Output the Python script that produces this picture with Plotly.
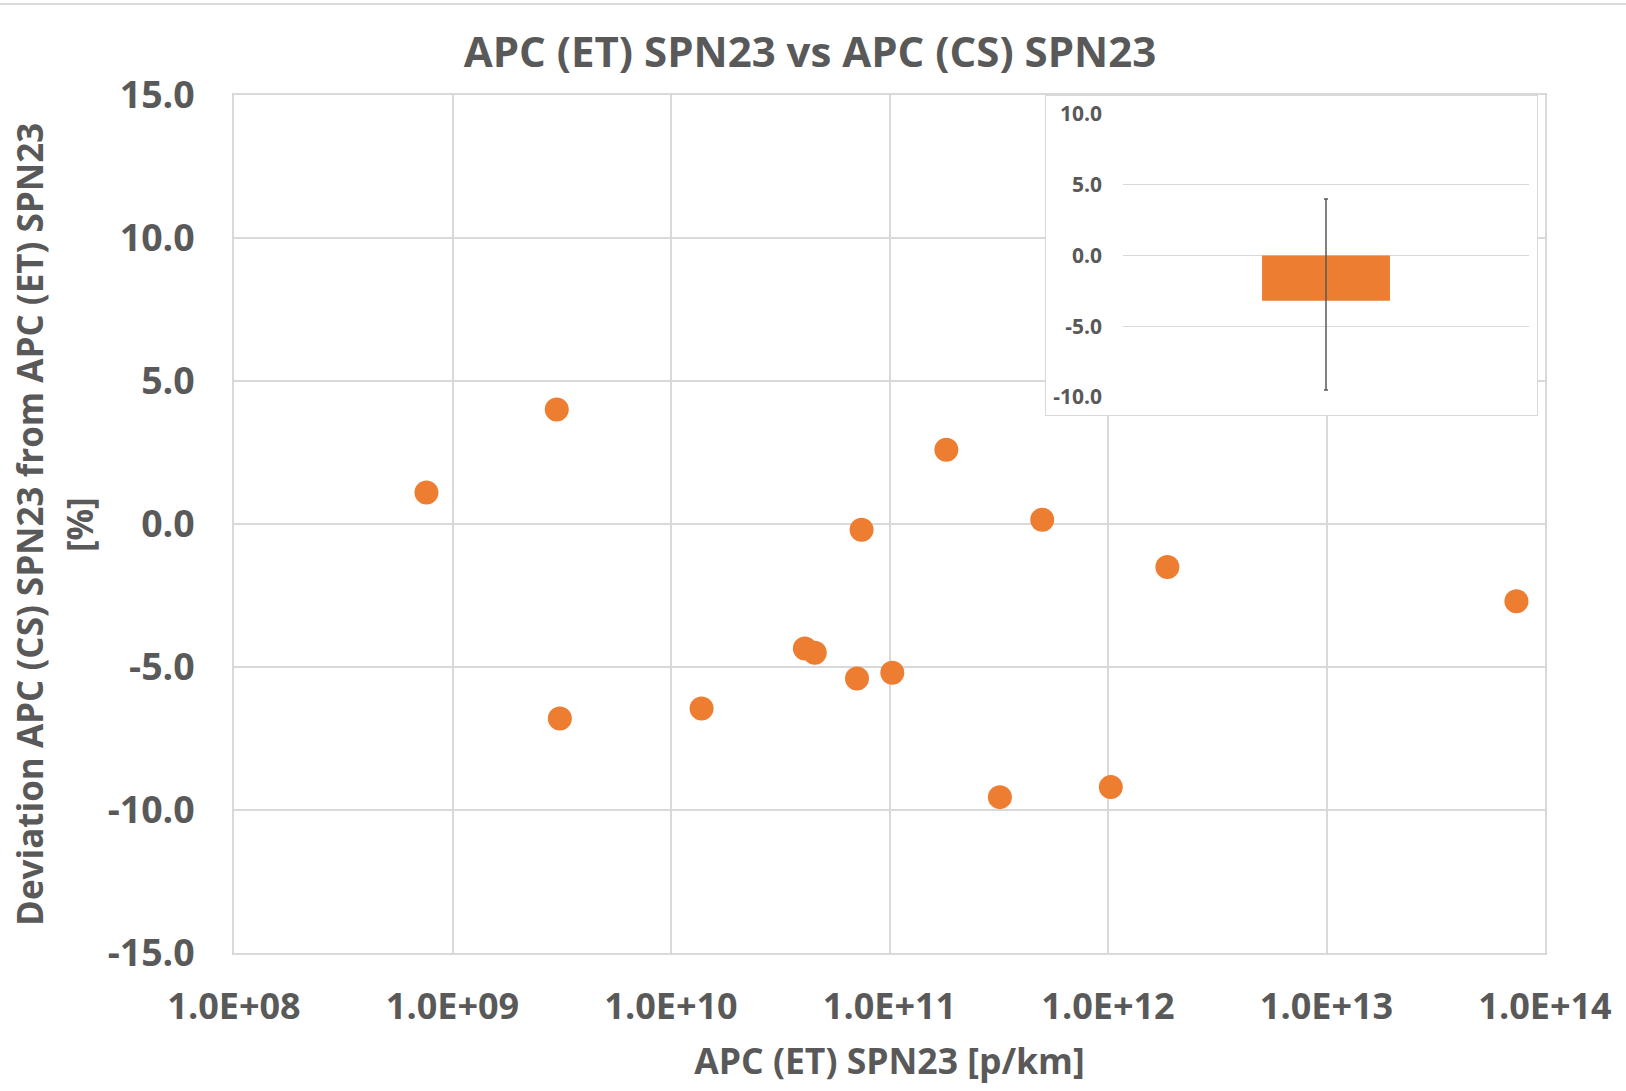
import plotly.graph_objects as go

# ---- data ----
apc_et = [7.6e8, 3.0e9, 3.1e9, 1.38e10, 4.1e10, 4.55e10, 7.45e10, 7.1e10,
          1.03e11, 1.82e11, 3.2e11, 5.0e11, 1.03e12, 1.87e12, 7.4e13]
deviation = [1.1, 4.0, -6.8, -6.45, -4.35, -4.5, -0.2, -5.4,
             -5.2, 2.6, -9.55, 0.15, -9.2, -1.5, -2.7]

x_tickvals = [1e8, 1e9, 1e10, 1e11, 1e12, 1e13, 1e14]
x_ticktext = ["1.0E+08", "1.0E+09", "1.0E+10", "1.0E+11", "1.0E+12", "1.0E+13", "1.0E+14"]
y_tickvals = [-15, -10, -5, 0, 5, 10, 15]
y_ticktext = ["-15.0", "-10.0", "-5.0", "0.0", "5.0", "10.0", "15.0"]

inset_category = ["Mean"]
inset_mean = [-3.2]
inset_max = [4.0]
inset_min = [-9.5]
inset_tickvals = [-10, -5, 0, 5, 10]
inset_ticktext = ["-10.0", "-5.0", "0.0", "5.0", "10.0"]

ORANGE = "#ED7D31"
TEXT = "#595959"
GRID = "#D9D9D9"
FONT = "Open Sans"

W, H = 1626, 1091
L, R, T, B = 234, 1545, 95, 953
pw, ph = R - L, B - T


def dx(px):
    return (px - L) / pw


def dy(py):
    return (B - py) / ph


fig = go.Figure()

# main scatter
fig.add_trace(go.Scatter(
    x=apc_et, y=deviation, mode="markers",
    marker=dict(size=24, color=ORANGE),
    xaxis="x", yaxis="y", showlegend=False,
))

# empty trace for the inset's white frame
fig.add_trace(go.Scatter(
    x=[], y=[], mode="markers", xaxis="x2", yaxis="y2",
    showlegend=False, hoverinfo="skip",
))

# inset bar with min/max error bar
fig.add_trace(go.Bar(
    x=inset_category, y=inset_mean,
    marker=dict(color=ORANGE, line=dict(width=0)),
    width=0.315,
    error_y=dict(type="data", symmetric=False,
                 array=[mx - m for mx, m in zip(inset_max, inset_mean)],
                 arrayminus=[m - mn for m, mn in zip(inset_mean, inset_min)],
                 color=TEXT, thickness=1.5, width=2),
    xaxis="x3", yaxis="y3", showlegend=False,
))

fig.update_layout(
    width=W, height=H,
    margin=dict(l=L, r=W - R, t=T, b=H - B),
    paper_bgcolor="white", plot_bgcolor="white",
    font=dict(family=FONT, color=TEXT),
    title=dict(text="<b>APC (ET) SPN23 vs APC (CS) SPN23</b>",
               x=810 / W, xanchor="center", y=1 - 52 / H, yanchor="middle",
               font=dict(size=42, family=FONT, color=TEXT)),
    xaxis=dict(
        type="log", range=[8, 14], domain=[0, 1],
        tickvals=x_tickvals, ticktext=x_ticktext,
        tickfont=dict(size=36, family=FONT, color=TEXT, weight="bold"),
        ticklabelstandoff=21,
        showgrid=True, gridcolor=GRID, gridwidth=1.5,
        showline=True, linecolor=GRID, linewidth=1.5, mirror=True,
        zeroline=False, ticks="",
        title=dict(text="<b>APC (ET) SPN23 [p/km]</b>",
                   font=dict(size=35.5, family=FONT, color=TEXT), standoff=20),
    ),
    yaxis=dict(
        range=[-15, 15], domain=[0, 1],
        tickvals=y_tickvals, ticktext=y_ticktext,
        tickfont=dict(size=37.5, family=FONT, color=TEXT, weight="bold"),
        ticklabelstandoff=30,
        showgrid=True, gridcolor=GRID, gridwidth=1.5,
        showline=True, linecolor=GRID, linewidth=1.5, mirror=True,
        zeroline=True, zerolinecolor=GRID, zerolinewidth=1.5, ticks="",
    ),
    xaxis2=dict(
        domain=[dx(1046), dx(1537)], anchor="y2", range=[0, 1],
        showgrid=False, zeroline=False, showticklabels=False, ticks="",
        showline=True, mirror=True, linecolor=GRID, linewidth=1.2,
    ),
    yaxis2=dict(
        domain=[dy(415), dy(96)], anchor="x2", range=[0, 1],
        showgrid=False, zeroline=False, showticklabels=False, ticks="",
        showline=True, mirror=True, linecolor=GRID, linewidth=1.2,
    ),
    xaxis3=dict(
        domain=[dx(1123), dx(1529)], anchor="y3", range=[-0.5, 0.5],
        visible=False, showgrid=False, zeroline=False,
    ),
    yaxis3=dict(
        domain=[dy(397), dy(114)], anchor="x3", range=[-10, 10],
        tickvals=inset_tickvals, ticktext=inset_ticktext,
        tickfont=dict(size=21, family=FONT, color=TEXT, weight="bold"),
        ticklabelstandoff=20,
        showgrid=True, gridcolor=GRID, gridwidth=1.2,
        zeroline=True, zerolinecolor=GRID, zerolinewidth=1.2,
        showline=False, ticks="",
    ),
    shapes=[
        dict(type="line", xref="paper", yref="paper",
             x0=-L / pw, x1=(W - L) / pw, y0=1 + (T - 4) / ph, y1=1 + (T - 4) / ph,
             line=dict(color=GRID, width=2)),
    ],
    annotations=[
        dict(text="<b>Deviation APC (CS) SPN23 from APC (ET) SPN23</b>",
             xref="paper", yref="paper", x=dx(29), y=dy(525),
             xanchor="center", yanchor="middle", textangle=-90, showarrow=False,
             font=dict(size=35, family=FONT, color=TEXT)),
        dict(text="<b>[%]</b>",
             xref="paper", yref="paper", x=dx(79), y=dy(525),
             xanchor="center", yanchor="middle", textangle=-90, showarrow=False,
             font=dict(size=35, family=FONT, color=TEXT)),
    ],
)

fig.write_html("out.html", config={"displayModeBar": False},
               post_script="document.body.style.margin='0';")
